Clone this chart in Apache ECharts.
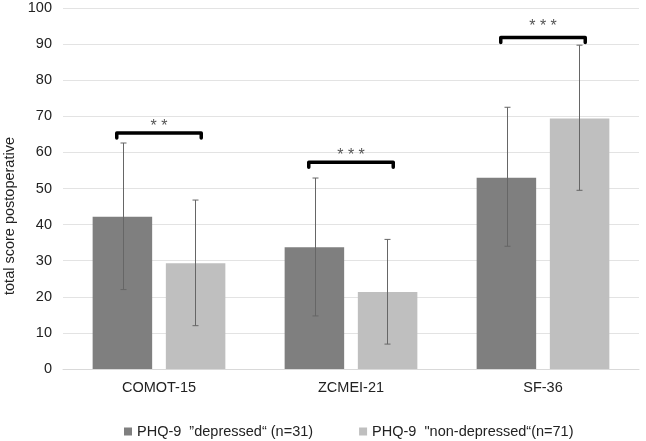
<!DOCTYPE html>
<html><head><meta charset="utf-8">
<script src="https://cdn.jsdelivr.net/npm/echarts@6/dist/echarts.min.js"></script>
<style>html,body{margin:0;padding:0;background:#fff}#c{width:646px;height:441px}</style>
</head><body><div id="c"></div>
<script>
const categories = ['COMOT-15', 'ZCMEI-21', 'SF-36'];
const seriesNames = ['PHQ-9  \u201Ddepressed\u201C (n=31)', 'PHQ-9  "non-depressed\u201C(n=71)'];
const yAxisTitle = 'total score postoperative';
const depressedMean = [42.2, 33.7, 53.0];
const depressedLow = [22.0, 14.7, 34.0];
const depressedHigh = [62.6, 52.9, 72.5];
const nonDepressedMean = [29.3, 21.3, 69.4];
const nonDepressedLow = [12.0, 6.9, 49.5];
const nonDepressedHigh = [46.8, 35.9, 89.7];
const bracketLevels = [65.4, 57.3, 91.8];
const starLevels = [67.5, 59.5, 95.1];
const bracketStars = ['* *', '* * *', '* * *'];
const yTicks = [0, 10, 20, 30, 40, 50, 60, 70, 80, 90, 100];

const font = 'Liberation Sans, Arial, sans-serif';
const fs = 14.5;
const chart = echarts.init(document.getElementById('c'));

function errData(low, high) { return low.map((l, i) => [i, l, high[i]]); }
function errorSeries(low, high, side) {
  return {
    type: 'custom', silent: true, z: 5,
    data: errData(low, high),
    encode: { x: 0, y: [1, 2] },
    renderItem: function (params, api) {
      const band = api.size([1, 0])[0];
      const off = side * band * 0.19;
      const lo = api.coord([api.value(0), api.value(1)]);
      const hi = api.coord([api.value(0), api.value(2)]);
      const x = Math.round(lo[0] + off) + 0.5;
      const cap = 3;
      const st = { stroke: '#666', lineWidth: 1 };
      return { type: 'group', children: [
        { type: 'line', shape: { x1: x, y1: lo[1], x2: x, y2: hi[1] }, style: st },
        { type: 'line', shape: { x1: x - cap, y1: lo[1], x2: x + cap, y2: lo[1] }, style: st },
        { type: 'line', shape: { x1: x - cap, y1: hi[1], x2: x + cap, y2: hi[1] }, style: st }
      ]};
    }
  };
}

chart.setOption({
  animation: false,
  textStyle: { fontFamily: font },
  grid: { left: 63, right: 7, top: 8, bottom: 72 },
  graphic: [{
    type: 'text', x: 10, y: 216, rotation: Math.PI / 2,
    style: { text: yAxisTitle, fill: '#222', font: fs + 'px ' + font, align: 'center', verticalAlign: 'middle' }
  }],
  legend: {
    left: 119, top: 419, itemWidth: 8, itemHeight: 8, itemGap: 46,
    icon: 'rect',
    textStyle: { fontSize: fs, color: '#222', fontFamily: font },
    data: seriesNames
  },
  xAxis: {
    type: 'category', data: categories,
    axisLine: { show: true, lineStyle: { color: '#d9d9d9' } },
    axisTick: { show: false },
    axisLabel: { fontSize: fs, color: '#222', margin: 11, fontFamily: font }
  },
  yAxis: {
    type: 'value', min: yTicks[0], max: yTicks[yTicks.length - 1], interval: 10,
    axisLine: { show: false }, axisTick: { show: false },
    axisLabel: { fontSize: fs, color: '#222', margin: 11, fontFamily: font },
    splitLine: { lineStyle: { color: '#e3e3e3' } }
  },
  series: [
    { name: seriesNames[0], type: 'bar', data: depressedMean, barWidth: '31%', barGap: '23%',
      itemStyle: { color: '#7f7f7f' } },
    { name: seriesNames[1], type: 'bar', data: nonDepressedMean, barWidth: '31%', barGap: '23%',
      itemStyle: { color: '#bfbfbf' } },
    errorSeries(depressedLow, depressedHigh, -1),
    errorSeries(nonDepressedLow, nonDepressedHigh, 1),
    {
      type: 'custom', silent: true, z: 6,
      data: bracketLevels.map((v, i) => [i, v, starLevels[i]]),
      encode: { x: 0, y: [1, 2] },
      renderItem: function (params, api) {
        const band = api.size([1, 0])[0];
        const p = api.coord([api.value(0), api.value(1)]);
        const s = api.coord([api.value(0), api.value(2)]);
        const x1 = p[0] - band * 0.22, x2 = p[0] + band * 0.22;
        const y = p[1], d = 5;
        return { type: 'group', children: [
          { type: 'polyline', shape: { points: [[x1, y + d], [x1, y], [x2, y], [x2, y + d]] },
            style: { stroke: '#000', lineWidth: 3.5, fill: null, lineJoin: 'round', lineCap: 'round' } },
          { type: 'text', x: (x1 + x2) / 2, y: s[1] + 9,
            style: { text: bracketStars[params.dataIndex], fill: '#555', font: '16px ' + font,
              align: 'center', verticalAlign: 'bottom' } }
        ]};
      }
    }
  ]
});
</script></body></html>
